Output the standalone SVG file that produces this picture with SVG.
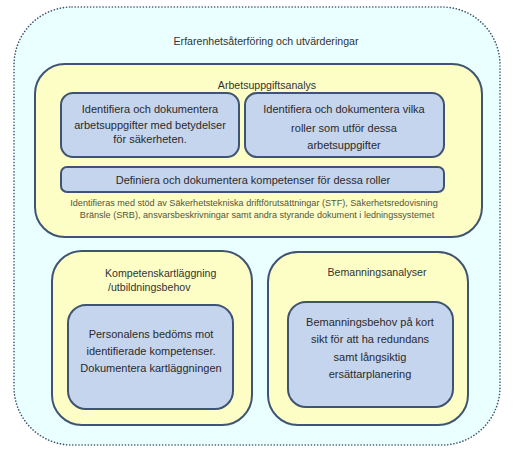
<svg xmlns="http://www.w3.org/2000/svg" width="514" height="449" viewBox="0 0 514 449">
<style>
.outer{fill:#eaffff;stroke:#3e5472;stroke-width:1.6;stroke-dasharray:0.1 3;stroke-linecap:round}
.yel{fill:#fdfdc6;stroke:#3e5472;stroke-width:2}
.blu{fill:#c6d5ee;stroke:#3e5472;stroke-width:2}
text{font-family:"Liberation Sans",Arial,sans-serif;fill:#2a2a2a;text-anchor:middle}
.t{font-size:11px}
.h{font-size:10.6px;fill:#333}
.n{font-size:9.1px;fill:#55553a}
.l{text-anchor:start}
</style>
<rect class="outer" x="14" y="7" width="486" height="438" rx="58" ry="58"/>
<text class="h" x="266" y="45">Erfarenhetsåterföring och utvärderingar</text>
<g id="arbetsuppgiftsanalys">
<rect class="yel" x="35" y="64" width="447" height="173" rx="30" ry="30"/>
<text class="h" x="267" y="89">Arbetsuppgiftsanalys</text>
<text class="n" x="254" y="206">Identifieras med stöd av Säkerhetstekniska driftförutsättningar (STF), Säkerhetsredovisning</text>
<text class="n" x="257" y="218">Bränsle (SRB), ansvarsbeskrivningar samt andra styrande dokument i ledningssystemet</text>
</g>
<g id="identifiera-arbetsuppgifter">
<rect class="blu" x="61" y="93" width="178" height="64" rx="12" ry="12"/>
<text class="t" x="150" y="113">Identifiera och dokumentera</text>
<text class="t" x="150" y="129">arbetsuppgifter med betydelser</text>
<text class="t" x="150" y="143">för säkerheten.</text>
</g>
<g id="identifiera-roller">
<rect class="blu" x="245" y="93" width="199" height="64" rx="12" ry="12"/>
<text class="t" x="344" y="113">Identifiera och dokumentera vilka</text>
<text class="t" x="344" y="132">roller som utför dessa</text>
<text class="t" x="344" y="149">arbetsuppgifter</text>
</g>
<g id="definiera-kompetenser">
<rect class="blu" x="61" y="167" width="383" height="25" rx="6" ry="6"/>
<text class="t" x="253" y="184">Definiera och dokumentera kompetenser för dessa roller</text>
</g>
<g id="kompetenskartlaggning">
<rect class="yel" x="52" y="251" width="200" height="174" rx="30" ry="30"/>
<text class="h l" x="105" y="277">Kompetenskartläggning</text>
<text class="h l" x="108" y="291">/utbildningsbehov</text>
</g>
<g id="personalens-bedoms">
<rect class="blu" x="68" y="305" width="165" height="104" rx="18" ry="18"/>
<text class="t" x="151" y="338">Personalens bedöms mot</text>
<text class="t" x="151" y="355">identifierade kompetenser.</text>
<text class="t" x="151" y="372">Dokumentera kartläggningen</text>
</g>
<g id="bemanningsanalyser">
<rect class="yel" x="268" y="252" width="200" height="173" rx="30" ry="30"/>
<text class="h" x="377" y="276">Bemanningsanalyser</text>
</g>
<g id="bemanningsbehov">
<rect class="blu" x="288" y="302" width="165" height="105" rx="18" ry="18"/>
<text class="t" x="370" y="326">Bemanningsbehov på kort</text>
<text class="t" x="370" y="343">sikt för att ha redundans</text>
<text class="t" x="370" y="361">samt långsiktig</text>
<text class="t" x="370" y="378">ersättarplanering</text>
</g>
<g id="connectors"></g>
</svg>
